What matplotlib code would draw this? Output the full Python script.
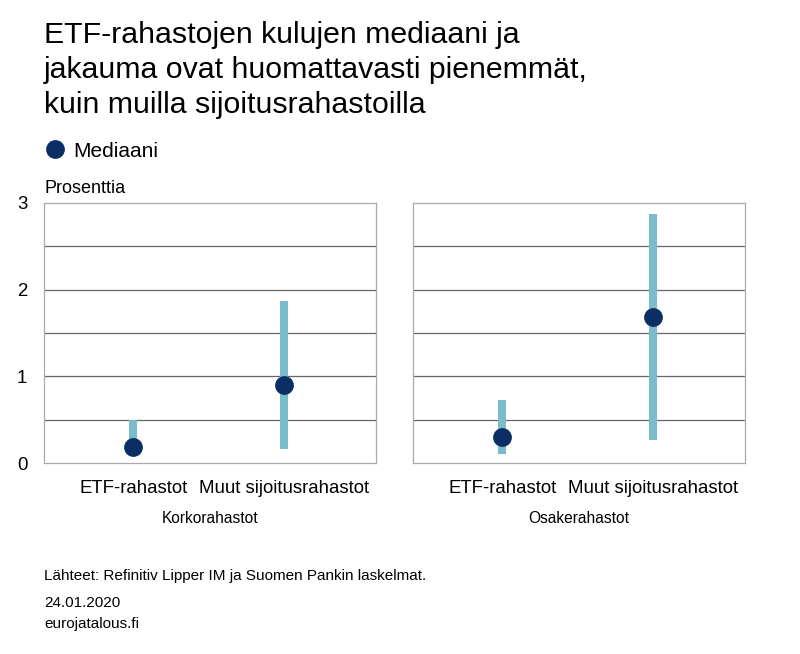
import matplotlib
matplotlib.use('Agg')
import matplotlib.pyplot as plt

plt.rcParams['font.family'] = ['Liberation Sans', 'DejaVu Sans']

# Data
panels = ['Korkorahastot', 'Osakerahastot']
categories = ['ETF-rahastot', 'Muut sijoitusrahastot']
range_low = [[0.12, 0.16], [0.10, 0.26]]
range_high = [[0.50, 1.87], [0.73, 2.87]]
median = [[0.18, 0.90], [0.30, 1.68]]
y_ticks = [0, 1, 2, 3]

bar_color = '#7bbccb'
dot_color = '#0b2f65'

W, H = 800, 654
fig = plt.figure(figsize=(W / 100, H / 100), dpi=100)
fig.patch.set_facecolor('white')


def px(x, y):
    return x / W, 1 - y / H


# Title
title_lines = ['ETF-rahastojen kulujen mediaani ja',
               'jakauma ovat huomattavasti pienemmät,',
               'kuin muilla sijoitusrahastoilla']
for i, line in enumerate(title_lines):
    fig.text(*px(44, 43 + 35 * i), line, fontsize=21.8, va='baseline', ha='left')

# Legend
fig.lines.append(plt.Line2D([55 / W], [1 - 149 / H], marker='o', markersize=12.5,
                            color=dot_color, transform=fig.transFigure, linestyle='none'))
fig.text(*px(73, 157), 'Mediaani', fontsize=15, va='baseline', ha='left')

fig.text(*px(44, 193), 'Prosenttia', fontsize=13, va='baseline', ha='left')

lefts = [44, 413]
for p, left in enumerate(lefts):
    ax = fig.add_axes([left / W, (H - 463) / H, 332 / W, 260 / H])
    x = [0, 1]
    ax.set_xlim(-0.593, 1.607)
    ax.set_ylim(0, 3)
    for yv in [0.5, 1, 1.5, 2, 2.5]:
        ax.axhline(yv, color='#666666', lw=0.9, zorder=1)
    ax.vlines(x, range_low[p], range_high[p], color=bar_color, lw=5.8,
              capstyle='butt', zorder=2)
    ax.plot(x, median[p], 'o', color=dot_color, markersize=12.5, zorder=3)
    for s in ax.spines.values():
        s.set_color('#aaaaaa')
        s.set_linewidth(0.9)
    ax.set_xticks(x)
    ax.set_xticklabels(categories, fontsize=13.4)
    ax.tick_params(axis='x', length=0, pad=12)
    ax.set_yticks(y_ticks)
    if p == 0:
        ax.set_yticklabels([str(t) for t in y_ticks], fontsize=13.4)
        ax.tick_params(axis='y', length=0, pad=12)
    else:
        ax.set_yticklabels([])
        ax.tick_params(axis='y', length=0)
    fig.text(*px(left + 166, 523), panels[p], fontsize=11.2, va='baseline', ha='center')

fig.text(*px(44, 580), 'Lähteet: Refinitiv Lipper IM ja Suomen Pankin laskelmat.',
         fontsize=11, va='baseline', ha='left')
fig.text(*px(44, 607), '24.01.2020', fontsize=11, va='baseline', ha='left')
fig.text(*px(44, 628), 'eurojatalous.fi', fontsize=11, va='baseline', ha='left')

fig.savefig('out.png', dpi=100, facecolor='white')
